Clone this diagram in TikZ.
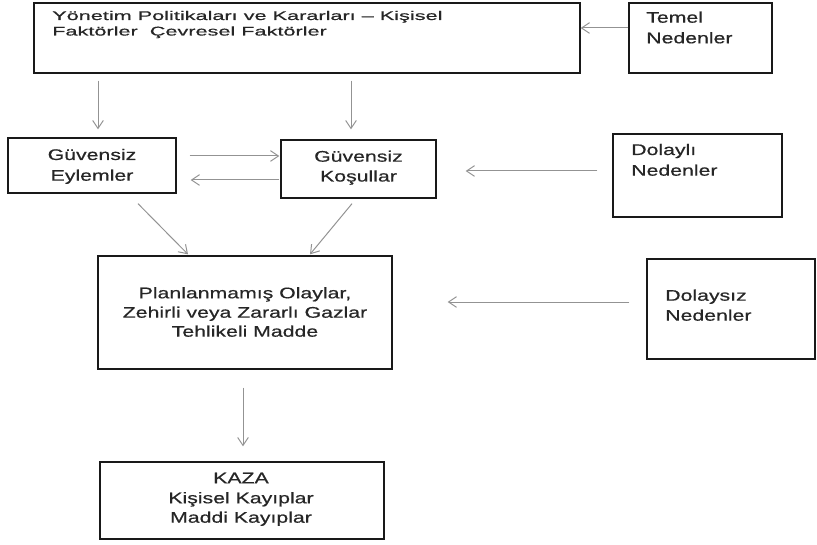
\documentclass[tikz,border=0pt]{standalone}
\usepackage{fontspec}
\setmainfont{Liberation Sans}[FakeStretch=1.38,FakeBold=0.6]
\newfontfamily\topfont{Liberation Sans}[FakeStretch=1.72,FakeBold=0.6]
\usetikzlibrary{arrows.meta}
\begin{document}
\begin{tikzpicture}[x=0.75pt,y=-0.75pt,
  box/.style={draw=black!90, line width=1pt, rectangle, inner sep=0pt},
  lbl/.style={inner sep=0pt, font=\fontsize{11.55}{14}\selectfont, text=black!85},
  toplbl/.style={inner sep=0pt, font=\topfont\fontsize{9.45}{12}\selectfont, text=black!85},
  arr/.style={draw=gray!85, line width=0.75pt, -{Straight Barb[length=6pt,width=8pt]}}]
\useasboundingbox (0,0) rectangle (817,545);

% boxes
\node[box, minimum width=409.5pt, minimum height=52.5pt] (top) at (307,38) {};
\node[box, minimum width=107.25pt, minimum height=52.5pt] (temel) at (700.5,38) {};
\node[box, minimum width=126pt, minimum height=41.25pt] (ge) at (92,165.5) {};
\node[box, minimum width=116.25pt, minimum height=43.5pt] (gk) at (358.5,169) {};
\node[box, minimum width=126.75pt, minimum height=62.25pt] (dolayli) at (697.5,175.5) {};
\node[box, minimum width=220.5pt, minimum height=84.75pt] (plan) at (245,312.5) {};
\node[box, minimum width=126pt, minimum height=75pt] (dolaysiz) at (731,309) {};
\node[box, minimum width=213pt, minimum height=57.75pt] (kaza) at (242,500.5) {};

% texts
\node[toplbl, anchor=base west] (topA) at (52,20) {Yönetim Politikaları ve Kararları – Kişisel};
\node[toplbl, anchor=base west] (topB) at (52,35.5) {Faktörler\ \ Çevresel Faktörler};
\node[lbl, anchor=base west] (temelA) at (646,22.7) {Temel};
\node[lbl, anchor=base west] (temelB) at (646,43.3) {Nedenler};
\node[lbl, anchor=base] (geA) at (92,160) {Güvensiz};
\node[lbl, anchor=base] (geB) at (92,180.7) {Eylemler};
\node[lbl, anchor=base] (gkA) at (358.5,161.7) {Güvensiz};
\node[lbl, anchor=base] (gkB) at (358.5,181.5) {Koşullar};
\node[lbl, anchor=base west] (dolayliA) at (631,155) {Dolaylı};
\node[lbl, anchor=base west] (dolayliB) at (631,175.7) {Nedenler};
\node[lbl, anchor=base] (planA) at (245,298.3) {Planlanmamış Olaylar,};
\node[lbl, anchor=base] (planB) at (245,317.7) {Zehirli veya Zararlı Gazlar};
\node[lbl, anchor=base] (planC) at (245,336.7) {Tehlikeli Madde};
\node[lbl, anchor=base west] (dolaysizA) at (665,300.7) {Dolaysız};
\node[lbl, anchor=base west] (dolaysizB) at (665,320.7) {Nedenler};
\node[lbl, anchor=base] (kazaA) at (241,483.3) {KAZA};
\node[lbl, anchor=base] (kazaB) at (241,503.3) {Kişisel Kayıplar};
\node[lbl, anchor=base] (kazaC) at (241,522.7) {Maddi Kayıplar};

% connectors
\draw[arr] (temel.west |- 0,28) -- (top.east |- 0,28);
\draw[arr, shorten <=5.25pt, shorten >=6pt] (top.south -| 98,0) -- (ge.north -| 98,0);
\draw[arr, shorten <=5.25pt, shorten >=7.5pt] (top.south -| 351,0) -- (gk.north -| 351,0);
\draw[arr, shorten <=9.75pt, shorten >=0.75pt] (ge.east |- 0,156) -- (gk.west |- 0,156);
\draw[arr, shorten <=0.75pt, shorten >=10.5pt] (gk.west |- 0,180) -- (ge.east |- 0,180);
\draw[arr, shorten <=11.25pt, shorten >=21.75pt] (dolayli.west |- 0,171) -- (gk.east |- 0,171);
\draw[arr] ([shift={(46,10)}]ge.south) -- ([shift={(-57,-1)}]plan.north);
\draw[arr] ([shift={(-6.5,5)}]gk.south) -- ([shift={(65,-1)}]plan.north);
\draw[arr, shorten <=12.75pt, shorten >=41.25pt] (dolaysiz.west |- 0,302) -- (plan.east |- 0,302);
\draw[arr, shorten <=13.5pt, shorten >=11.25pt] (plan.south -| 243,0) -- (kaza.north -| 243,0);
\end{tikzpicture}
\end{document}
